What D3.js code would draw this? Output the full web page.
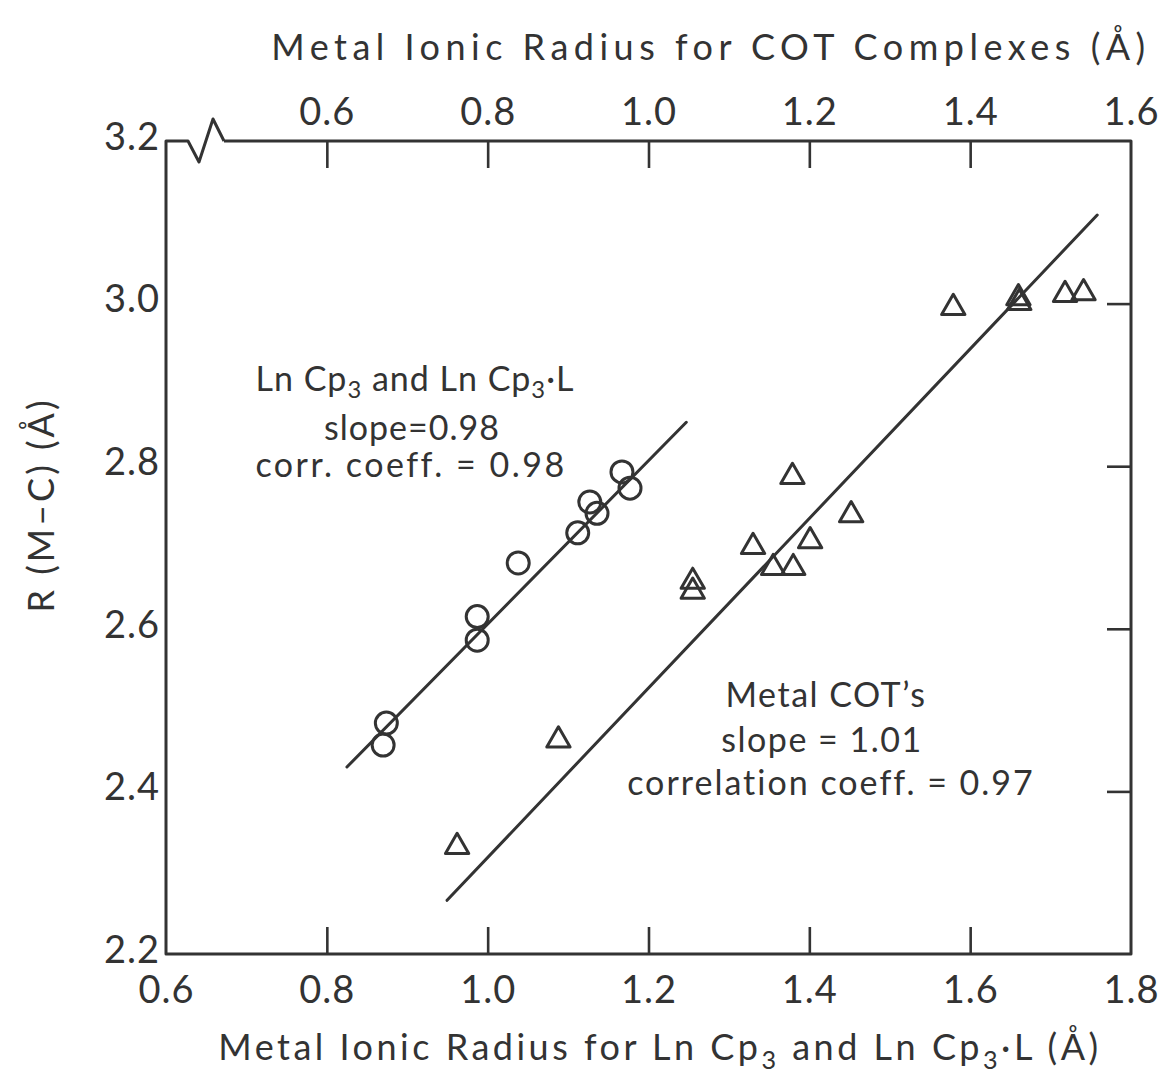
<!DOCTYPE html>
<html>
<head>
<meta charset="utf-8">
<script src="https://cdn.jsdelivr.net/npm/d3@7"></script>
<style>
  html, body { margin: 0; padding: 0; background: #fff; }
  svg text { font-family: "Lato", "DejaVu Sans", sans-serif; fill: #333; }
</style>
</head>
<body>
<svg id="chart" width="1159" height="1080"></svg>
<script>
// ---- data (bottom axis: Ln Cp3 radius; top axis: COT radius) ----
const lnCpRadius = [0.870, 0.874, 0.987, 0.987, 1.038, 1.112, 1.127, 1.136, 1.167, 1.177];
const lnCpRMC    = [2.457, 2.484, 2.615, 2.586, 2.681, 2.718, 2.756, 2.742, 2.793, 2.773];

const cotRadius = [0.762, 0.888, 1.055, 1.055, 1.130, 1.155, 1.180, 1.179, 1.201, 1.252, 1.379, 1.460, 1.461, 1.518, 1.541];
const cotRMC    = [2.332, 2.463, 2.658, 2.646, 2.701, 2.675, 2.675, 2.787, 2.708, 2.740, 2.995, 3.007, 3.001, 3.011, 3.013];

// fitted lines (end points, in data units)
const lnCpFitX = [0.825, 1.247];
const lnCpFitY = [2.430, 2.854];
const cotFitX  = [0.7495, 1.558];
const cotFitY  = [2.266, 3.109];

const bottomTicks = [0.6, 0.8, 1.0, 1.2, 1.4, 1.6, 1.8];
const topTicks    = [0.6, 0.8, 1.0, 1.2, 1.4, 1.6];
const yTicks      = [2.2, 2.4, 2.6, 2.8, 3.0, 3.2];

// ---- scales ----
const svg = d3.select("#chart");
const L = 166, R = 1131, T = 141, B = 954;
const xB = d3.scaleLinear().domain([0.6, 1.8]).range([L, R]);
const xT = d3.scaleLinear().domain([0.4, 1.6]).range([L, R]);
const y  = d3.scaleLinear().domain([2.2, 3.2]).range([B, T]);
const ink = "#333";
const fmt = d3.format(".1f");

// ---- frame with axis break on top ----
const fr = d3.path();
fr.moveTo(L + 58, T);
fr.lineTo(R, T);
fr.lineTo(R, B);
fr.lineTo(L, B);
fr.lineTo(L, T);
fr.lineTo(L + 22, T);
fr.lineTo(L + 33, T + 21);
fr.lineTo(L + 47, T - 22);
fr.lineTo(L + 58, T);
svg.append("path").attr("d", fr.toString())
  .attr("fill", "none").attr("stroke", ink).attr("stroke-width", 3)
  .attr("stroke-linejoin", "round");

// ---- axes ----
function styleAxis(g, fontSize) {
  g.select(".domain").remove();
  g.selectAll(".tick line").attr("stroke", ink).attr("stroke-width", 2.6);
  g.selectAll(".tick text").attr("fill", ink)
    .style("font-size", fontSize + "px")
    .style("letter-spacing", "1px")
    .style("font-family", "Lato, 'DejaVu Sans', sans-serif");
}

const gB = svg.append("g").attr("transform", `translate(0,${B})`)
  .call(d3.axisBottom(xB).tickValues(bottomTicks).tickFormat(fmt)
        .tickSizeInner(-27).tickSizeOuter(0).tickPadding(22));
styleAxis(gB, 38);
gB.selectAll(".tick").filter(d => d === 0.6 || d === 1.8).select("line").remove();

const gT = svg.append("g").attr("transform", `translate(0,${T})`)
  .call(d3.axisTop(xT).tickValues(topTicks).tickFormat(fmt)
        .tickSizeInner(-27).tickSizeOuter(0).tickPadding(16));
styleAxis(gT, 38);
gT.selectAll(".tick").filter(d => d === 1.6).select("line").remove();

const gL = svg.append("g").attr("transform", `translate(${L},0)`)
  .call(d3.axisLeft(y).tickValues(yTicks).tickFormat(fmt)
        .tickSize(0).tickPadding(6));
styleAxis(gL, 38);
gL.selectAll(".tick text").attr("dy", "0.22em");

const gR = svg.append("g").attr("transform", `translate(${R},0)`)
  .call(d3.axisRight(y).tickValues([2.4, 2.6, 2.8, 3.0]).tickFormat("")
        .tickSizeInner(-24).tickSizeOuter(0));
styleAxis(gR, 38);

// ---- fitted lines ----
const lineB = d3.line().x(d => xB(d[0])).y(d => y(d[1]));
const lineT = d3.line().x(d => xT(d[0])).y(d => y(d[1]));
svg.append("path").attr("d", lineB(d3.zip(lnCpFitX, lnCpFitY)))
  .attr("stroke", ink).attr("stroke-width", 3).attr("fill", "none").attr("stroke-linecap", "round");
svg.append("path").attr("d", lineT(d3.zip(cotFitX, cotFitY)))
  .attr("stroke", ink).attr("stroke-width", 3).attr("fill", "none").attr("stroke-linecap", "round");

// ---- points ----
svg.append("g").selectAll("circle").data(d3.zip(lnCpRadius, lnCpRMC)).join("circle")
  .attr("cx", d => xB(d[0])).attr("cy", d => y(d[1])).attr("r", 11)
  .attr("fill", "none").attr("stroke", ink).attr("stroke-width", 3);

const tri = d3.symbol().type(d3.symbolTriangle).size(235);
svg.append("g").selectAll("path").data(d3.zip(cotRadius, cotRMC)).join("path")
  .attr("d", tri)
  .attr("transform", d => `translate(${xT(d[0])},${y(d[1])})`)
  .attr("fill", "none").attr("stroke", ink).attr("stroke-width", 3)
  .attr("stroke-linejoin", "round");

// ---- annotations ----
function addText(x, yy, parts, size, opts = {}) {
  const t = svg.append("text").attr("x", x).attr("y", yy)
    .attr("text-anchor", opts.anchor || "middle")
    .style("font-size", size + "px")
    .style("letter-spacing", (opts.ls || 0) + "px");
  if (opts.transform) t.attr("transform", opts.transform);
  const sh = size * (opts.subShift || 0.24);
  parts.forEach(p => {
    const s = t.append("tspan").text(p.t);
    if (p.sub) s.attr("dy", sh).style("font-size", (size * 0.7) + "px");
    if (p.after) s.attr("dy", -sh);
  });
  return t;
}

addText(415, 391, [{t: "Ln Cp"}, {t: "3", sub: true}, {t: " and Ln Cp", after: true}, {t: "3", sub: true}, {t: "·L", after: true}], 34, {ls: 1, subShift: 0.2});
addText(412, 440, [{t: "slope=0.98"}], 34, {ls: 1});
addText(411, 477, [{t: "corr. coeff. = 0.98"}], 34, {ls: 2.5});

addText(826, 707, [{t: "Metal  COT’s"}], 34, {ls: 1.5});
addText(822, 752, [{t: "slope = 1.01"}], 34, {ls: 1.5});
addText(831, 795, [{t: "correlation  coeff. = 0.97"}], 34, {ls: 2});

// axis titles
addText(711, 60, [{t: "Metal  Ionic  Radius  for  COT  Complexes  (Å)"}], 36, {ls: 5.5});
addText(660, 1060, [{t: "Metal  Ionic  Radius  for  Ln Cp"}, {t: "3", sub: true}, {t: "  and  Ln Cp", after: true}, {t: "3", sub: true}, {t: "·L  (Å)", after: true}], 36, {ls: 3.5});
addText(0, 0, [{t: "R (M–C) (Å)"}], 36, {ls: 3, transform: "translate(54,505) rotate(-90)"});
</script>
</body>
</html>
